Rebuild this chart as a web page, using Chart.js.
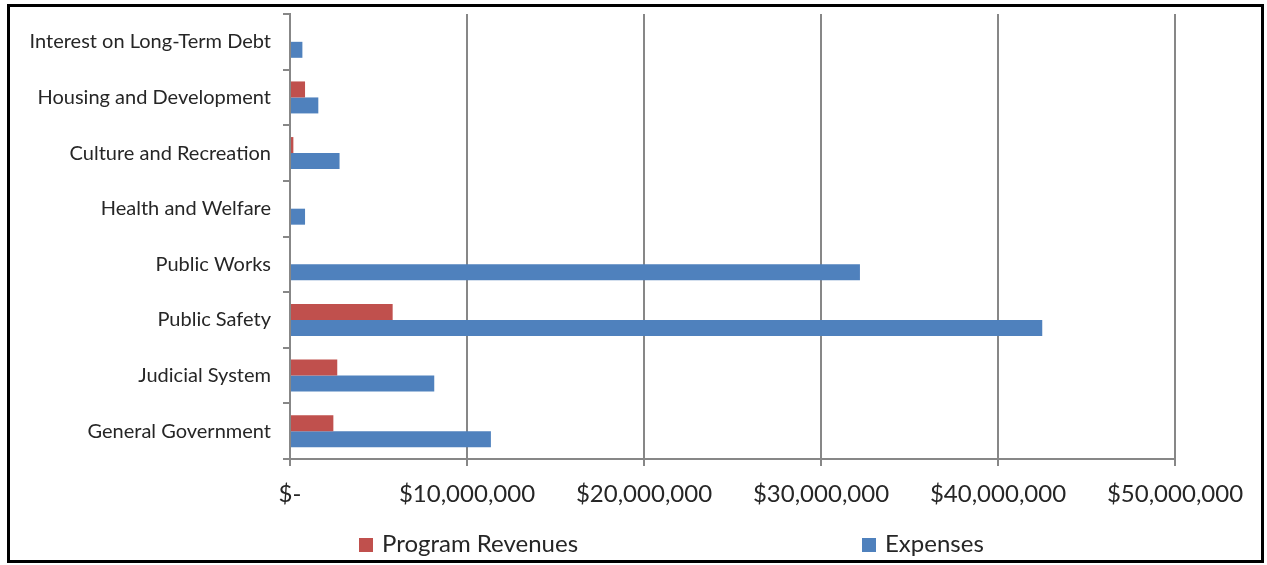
<!DOCTYPE html>
<html>
<head>
<meta charset="utf-8">
<script src="https://cdn.jsdelivr.net/npm/chart.js@4"></script>
<style>
    html, body { margin: 0; padding: 0; background: #fff; }
    body { width: 1267px; height: 565px; position: relative; overflow: hidden; font-family: Lato, sans-serif; }
    #frame {
        position: absolute; left: 7px; top: 4px; width: 1257px; height: 559px;
        border: 3px solid #000; box-sizing: border-box; background: #fff;
    }
    #chartWrap { position: absolute; left: 0; top: 0; width: 1251px; height: 553px; }
    .legend-item { position: absolute; top: 521px; font-size: 24px; color: #262626; line-height: 30px; white-space: nowrap; }
    .legend-box { display: inline-block; width: 14px; height: 14px; vertical-align: 0px; margin-right: 9px; }
</style>
</head>
<body>
<div id="frame">
    <div id="chartWrap"><canvas id="barChart" width="1251" height="553"></canvas></div>
    <div class="legend-item" style="left:349px"><span class="legend-box" style="background:#C0504D"></span>Program Revenues</div>
    <div class="legend-item" style="left:852px"><span class="legend-box" style="background:#4F81BD"></span>Expenses</div>
</div>
<script>
// Data (top to bottom as shown)
const categories = [
    'Interest on Long-Term Debt',
    'Housing and Development',
    'Culture and Recreation',
    'Health and Welfare',
    'Public Works',
    'Public Safety',
    'Judicial System',
    'General Government'
];
const programRevenues = [0, 850000, 190000, 0, 0, 5800000, 2670000, 2450000];
const expenses = [700000, 1600000, 2800000, 850000, 32200000, 42500000, 8150000, 11350000];
const xTicks = [0, 10000000, 20000000, 30000000, 40000000, 50000000];

const gridColor = '#878787';
const textColor = '#262626';

function formatDollar(v) {
    if (v === 0) return '$-';
    return '$' + v.toLocaleString('en-US');
}

const ctx = document.getElementById('barChart').getContext('2d');

new Chart(ctx, {
    type: 'bar',
    data: {
        labels: categories,
        datasets: [
            {
                label: 'Program Revenues',
                data: programRevenues,
                backgroundColor: '#C0504D',
                barPercentage: 1.0,
                categoryPercentage: 0.575
            },
            {
                label: 'Expenses',
                data: expenses,
                backgroundColor: '#4F81BD',
                barPercentage: 1.0,
                categoryPercentage: 0.575
            }
        ]
    },
    options: {
        indexAxis: 'y',
        responsive: false,
        animation: false,
        layout: {
            padding: { top: 7, right: 86, left: 0, bottom: 0 }
        },
        plugins: {
            legend: { display: false },
            tooltip: { enabled: false }
        },
        scales: {
            x: {
                min: 0,
                max: 50000000,
                afterBuildTicks: (scale) => {
                    scale.ticks = xTicks.map(v => ({ value: v }));
                },
                afterFit: (scale) => { scale.height = 101; },
                grid: {
                    color: gridColor,
                    lineWidth: 2,
                    tickLength: 7,
                    drawOnChartArea: true
                },
                border: { color: gridColor, width: 2 },
                ticks: {
                    callback: (v) => formatDollar(v),
                    color: textColor,
                    font: { family: 'Lato', size: 24 },
                    padding: 14,
                    maxRotation: 0,
                    autoSkip: false
                }
            },
            y: {
                afterFit: (scale) => {
                    scale.width = 280;
                    scale.paddingTop = 0;
                    scale.paddingBottom = 0;
                },
                grid: {
                    color: gridColor,
                    lineWidth: 2,
                    tickLength: 7,
                    drawOnChartArea: false,
                    offset: true
                },
                border: { color: gridColor, width: 2 },
                ticks: {
                    color: textColor,
                    font: { family: 'Lato', size: 20 },
                    padding: 12,
                    autoSkip: false
                }
            }
        }
    }
});
</script>
</body>
</html>
